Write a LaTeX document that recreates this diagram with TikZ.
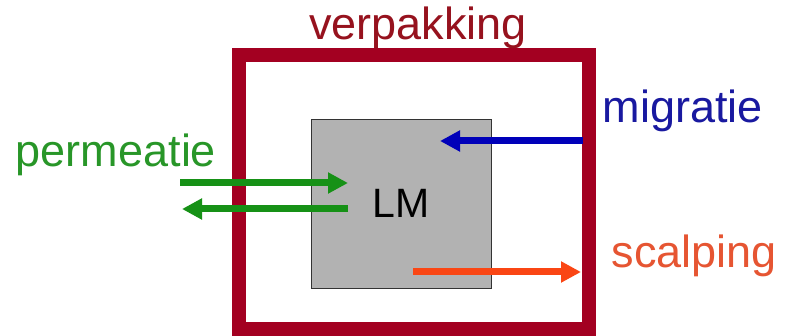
\documentclass[tikz,border=0pt]{standalone}
\usepackage{fontspec}
\setmainfont{Liberation Sans}
\usetikzlibrary{arrows.meta}
\definecolor{framered}{RGB}{163,0,33}
\definecolor{verptext}{RGB}{150,18,30}
\definecolor{arrgreen}{RGB}{22,145,22}
\definecolor{txtgreen}{RGB}{40,150,40}
\definecolor{arrblue}{RGB}{0,0,185}
\definecolor{txtblue}{RGB}{25,25,160}
\definecolor{arrorange}{RGB}{250,70,20}
\definecolor{txtorange}{RGB}{230,85,50}
\definecolor{lmgray}{RGB}{178,178,178}
\tikzset{
  label/.style={anchor=base, inner sep=0pt, font=\fontsize{45}{54}\selectfont},
  flow/.style={line width=7pt, -{Triangle[length=20pt, width=20pt]}},
}
\begin{document}
\begin{tikzpicture}[x=1pt, y=-1pt]
\useasboundingbox (0,0) rectangle (788,336);
\fill[white] (0,0) rectangle (788,336);
% package frame
\node[draw=framered, line width=14pt, minimum width=349.5pt, minimum height=273.5pt, inner sep=0pt] (frame) at (413.75,192.25) {};
% LM box
\node[draw=black!80, fill=lmgray, line width=0.8pt, minimum width=180pt, minimum height=169pt, inner sep=0pt, font=\fontsize{41}{49}\selectfont] (lm) at (401,203.5) {LM};
% labels
\node[label, text=verptext] (verp) at (418,40) {verpakking};
\node[label, text=txtgreen] (perm) at (116,167) {permeatie};
\node[label, text=txtblue] (migr) at (683,123) {migratie};
\node[label, text=txtorange] (scal) at (694.5,268) {scalping};
% arrow end points
\coordinate (pin0) at (180,183);
\coordinate (pin1) at (348,183);
\coordinate (pout0) at (348,209);
\coordinate (pout1) at (182,209);
\coordinate (mig0) at (583,141);
\coordinate (mig1) at (440,141);
\coordinate (sca0) at (413,272);
\coordinate (sca1) at (581,272);
% arrows
\draw[flow, arrgreen] (pin0) -- (pin1);
\draw[flow, arrgreen] (pout0) -- (pout1);
\draw[flow, arrblue] (mig0) -- (mig1);
\draw[flow, arrorange] (sca0) -- (sca1);
\end{tikzpicture}
\end{document}
